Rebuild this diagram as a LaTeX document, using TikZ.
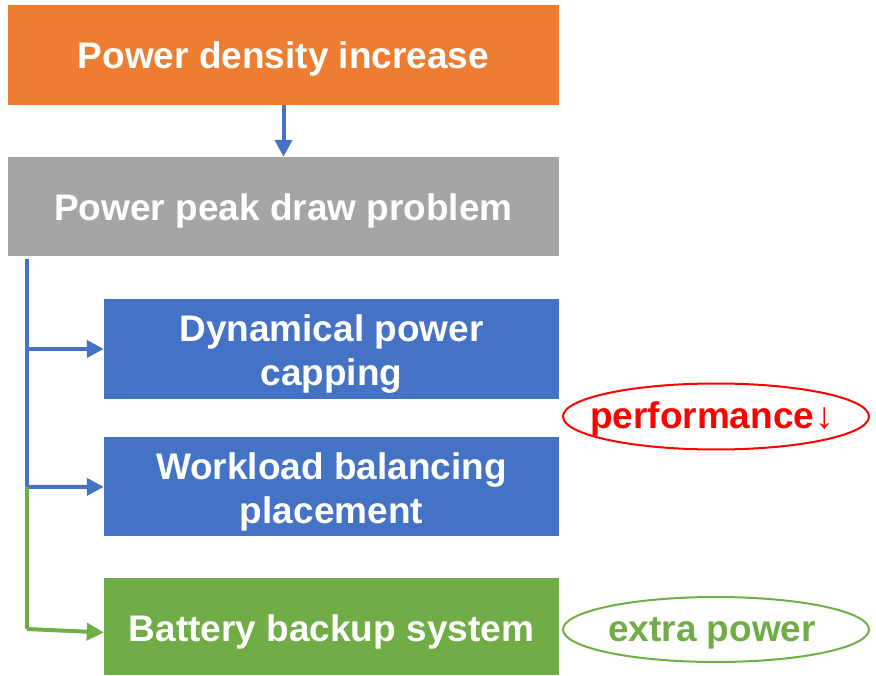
\documentclass[tikz,border=0pt]{standalone}
\usepackage{fontspec}
\setmainfont{Liberation Sans}
\usetikzlibrary{arrows.meta,calc}
\definecolor{pdorange}{HTML}{ED7D31}
\definecolor{pdgray}{HTML}{A5A5A5}
\definecolor{pdblue}{HTML}{4472C4}
\definecolor{pdgreen}{HTML}{70AD47}
\definecolor{pdred}{HTML}{FF0000}

\begin{document}
\begin{tikzpicture}[x=1pt,y=-1pt,
  box/.style={fill=#1,inner sep=0pt,minimum height=100pt},
  boxtext/.style={text=white,font=\bfseries\fontsize{37}{44}\selectfont,
    align=center,inner sep=0pt},
  note/.style={text=#1,inner sep=0pt,font=\bfseries\fontsize{37}{44}\selectfont},
  link/.style={line width=4pt,draw=#1,-{Triangle[length=17pt,width=17pt]}}]
\useasboundingbox (0,0) rectangle (876,676);
% boxes
\node[box=pdorange,minimum width=551pt] (density) at (283.5,55) {};
\node[box=pdgray,minimum width=551pt,minimum height=99pt] (peak) at (283.5,206.5) {};
\node[box=pdblue,minimum width=455pt] (capping) at (331.5,349) {};
\node[box=pdblue,minimum width=455pt,minimum height=99pt] (balance) at (331.5,486.5) {};
\node[box=pdgreen,minimum width=455pt,minimum height=97pt] (battery) at (331.5,626.5) {};
\node[boxtext] (density-t) at ([yshift=-4pt]density) {Power density increase};
\node[boxtext] (peak-t) at ([yshift=-4pt]peak) {Power peak draw problem};
\node[boxtext] (capping-t) at ([yshift=-5pt]capping) {Dynamical power\\capping};
\node[boxtext] (balance-t) at ([yshift=-5pt]balance) {Workload balancing\\placement};
\node[boxtext] (battery-t) at ([yshift=-5pt]battery) {Battery backup system};
% notes
\node[note=pdred] (perf) at (712,418.5) {performance\hspace{1pt}↓};
\node[note=pdgreen] (extra) at (712,633) {extra power};
\draw[pdred,line width=2pt] (716,416.5) ellipse (153pt and 33pt);
\draw[pdgreen,line width=2pt] (716,629.5) ellipse (153pt and 32.5pt);
% connectors
\coordinate (top) at (27,259);
\coordinate (split) at (27,487);
\coordinate (bend) at (27,629);
\draw[link=pdblue] (density) -- (peak);
\draw[line width=4pt,pdblue] (top) -- (split);
\draw[link=pdblue] (top |- capping) -- (capping);
\draw[link=pdblue] (split) -- (balance);
\draw[line width=4pt,pdgreen] (split) -- (bend);
\draw[link=pdgreen] (bend) -- ($(battery.west)+(0,6)$);
\end{tikzpicture}
\end{document}
